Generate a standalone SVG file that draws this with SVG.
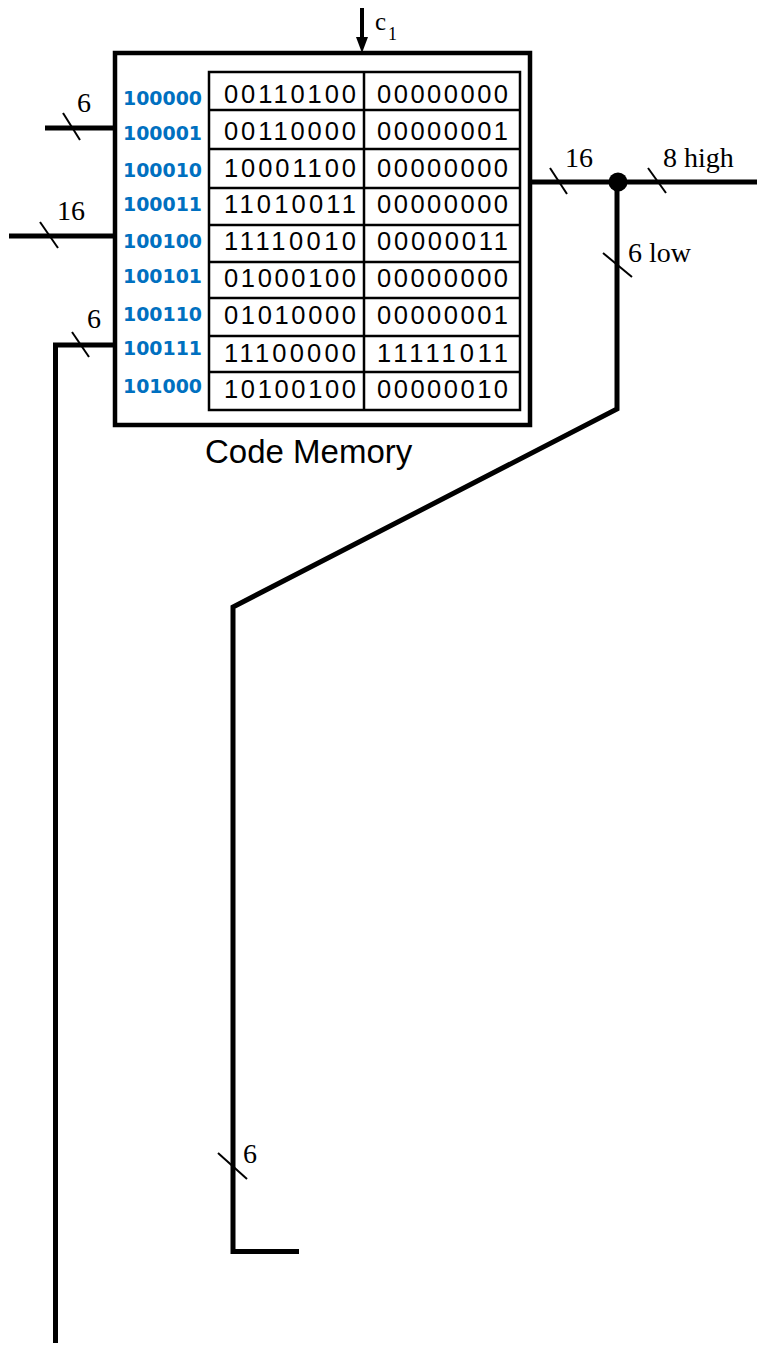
<svg xmlns="http://www.w3.org/2000/svg" width="761" height="1348" viewBox="0 0 761 1348">
<style>
.wire{fill:none;stroke:#000;stroke-width:5;stroke-linejoin:miter}
.tick{stroke:#000;stroke-width:2}
.lbl{font-family:"Liberation Serif",serif;font-size:28px;fill:#000}
.addr{font-family:"DejaVu Sans",sans-serif;font-weight:bold;font-size:19px;fill:#0070C0}
.bin{font-family:"Liberation Sans",sans-serif;font-size:25.5px;fill:#000}
.title{font-family:"Liberation Sans",sans-serif;font-size:33px;fill:#000}
</style>
<rect width="761" height="1348" fill="#fff"/>
<g id="connectors">
  <line x1="362" y1="8" x2="362" y2="40" stroke="#000" stroke-width="4"/>
  <polygon points="356,37 368,37 362,53" fill="#000"/>
  <polyline class="wire" points="45,128 115,128"/>
  <polyline class="wire" points="9,236 115,236"/>
  <polyline class="wire" points="115,345 55.5,345 55.5,1343"/>
  <polyline class="wire" points="530,182 757,182"/>
  <polyline class="wire" points="617,182 617,409 233,607 233,1251.5 299,1251.5"/>
  <circle cx="618" cy="182" r="9.5" fill="#000"/>
  <line class="tick" x1="63" y1="113" x2="80" y2="140"/>
  <line class="tick" x1="40" y1="222" x2="58" y2="248"/>
  <line class="tick" x1="72" y1="332" x2="89" y2="357"/>
  <line class="tick" x1="550" y1="168" x2="567" y2="194"/>
  <line class="tick" x1="648" y1="168" x2="666" y2="193"/>
  <line class="tick" x1="603" y1="253" x2="632" y2="277"/>
  <line class="tick" x1="218" y1="1153" x2="247" y2="1179"/>
  <text class="lbl" x="375" y="30" style="font-size:25px">c</text>
  <text class="lbl" x="388" y="40" style="font-size:18px">1</text>
  <text class="lbl" x="77" y="112">6</text>
  <text class="lbl" x="57" y="220">16</text>
  <text class="lbl" x="87" y="328">6</text>
  <text class="lbl" x="565" y="167">16</text>
  <text class="lbl" x="663" y="167">8 high</text>
  <text class="lbl" x="628" y="262">6 low</text>
  <text class="lbl" x="243" y="1163">6</text>
</g>
<g id="code-memory">
  <rect x="115" y="53" width="415" height="372" fill="none" stroke="#000" stroke-width="4.5"/>
  <rect x="209" y="72" width="311" height="338" fill="none" stroke="#000" stroke-width="2.5"/>
  <g stroke="#000" stroke-width="2.5">
    <line x1="364" y1="72" x2="364" y2="410"/>
    <line x1="209" y1="110" x2="520" y2="110"/>
    <line x1="209" y1="149" x2="520" y2="149"/>
    <line x1="209" y1="188" x2="520" y2="188"/>
    <line x1="209" y1="225" x2="520" y2="225"/>
    <line x1="209" y1="262" x2="520" y2="262"/>
    <line x1="209" y1="298" x2="520" y2="298"/>
    <line x1="209" y1="336" x2="520" y2="336"/>
    <line x1="209" y1="372" x2="520" y2="372"/>
  </g>
  <g class="addr">
    <text x="123" y="105" textLength="79" lengthAdjust="spacingAndGlyphs">100000</text>
    <text x="123" y="140" textLength="79" lengthAdjust="spacingAndGlyphs">100001</text>
    <text x="123" y="177" textLength="79" lengthAdjust="spacingAndGlyphs">100010</text>
    <text x="123" y="211" textLength="79" lengthAdjust="spacingAndGlyphs">100011</text>
    <text x="123" y="248" textLength="79" lengthAdjust="spacingAndGlyphs">100100</text>
    <text x="123" y="283" textLength="79" lengthAdjust="spacingAndGlyphs">100101</text>
    <text x="123" y="321" textLength="79" lengthAdjust="spacingAndGlyphs">100110</text>
    <text x="123" y="355" textLength="79" lengthAdjust="spacingAndGlyphs">100111</text>
    <text x="123" y="393" textLength="79" lengthAdjust="spacingAndGlyphs">101000</text>
  </g>
  <g class="bin">
    <text x="224" y="103" textLength="132" lengthAdjust="spacing">00110100</text>
    <text x="377" y="103" textLength="131" lengthAdjust="spacing">00000000</text>
    <text x="224" y="140" textLength="132" lengthAdjust="spacing">00110000</text>
    <text x="377" y="140" textLength="131" lengthAdjust="spacing">00000001</text>
    <text x="224" y="177" textLength="132" lengthAdjust="spacing">10001100</text>
    <text x="377" y="177" textLength="131" lengthAdjust="spacing">00000000</text>
    <text x="224" y="213" textLength="132" lengthAdjust="spacing">11010011</text>
    <text x="377" y="213" textLength="131" lengthAdjust="spacing">00000000</text>
    <text x="224" y="250" textLength="132" lengthAdjust="spacing">11110010</text>
    <text x="377" y="250" textLength="131" lengthAdjust="spacing">00000011</text>
    <text x="224" y="287" textLength="132" lengthAdjust="spacing">01000100</text>
    <text x="377" y="287" textLength="131" lengthAdjust="spacing">00000000</text>
    <text x="224" y="324" textLength="132" lengthAdjust="spacing">01010000</text>
    <text x="377" y="324" textLength="131" lengthAdjust="spacing">00000001</text>
    <text x="224" y="362" textLength="132" lengthAdjust="spacing">11100000</text>
    <text x="377" y="362" textLength="131" lengthAdjust="spacing">11111011</text>
    <text x="224" y="398" textLength="132" lengthAdjust="spacing">10100100</text>
    <text x="377" y="398" textLength="131" lengthAdjust="spacing">00000010</text>
  </g>
  <text class="title" x="205" y="463">Code Memory</text>
</g>
</svg>
